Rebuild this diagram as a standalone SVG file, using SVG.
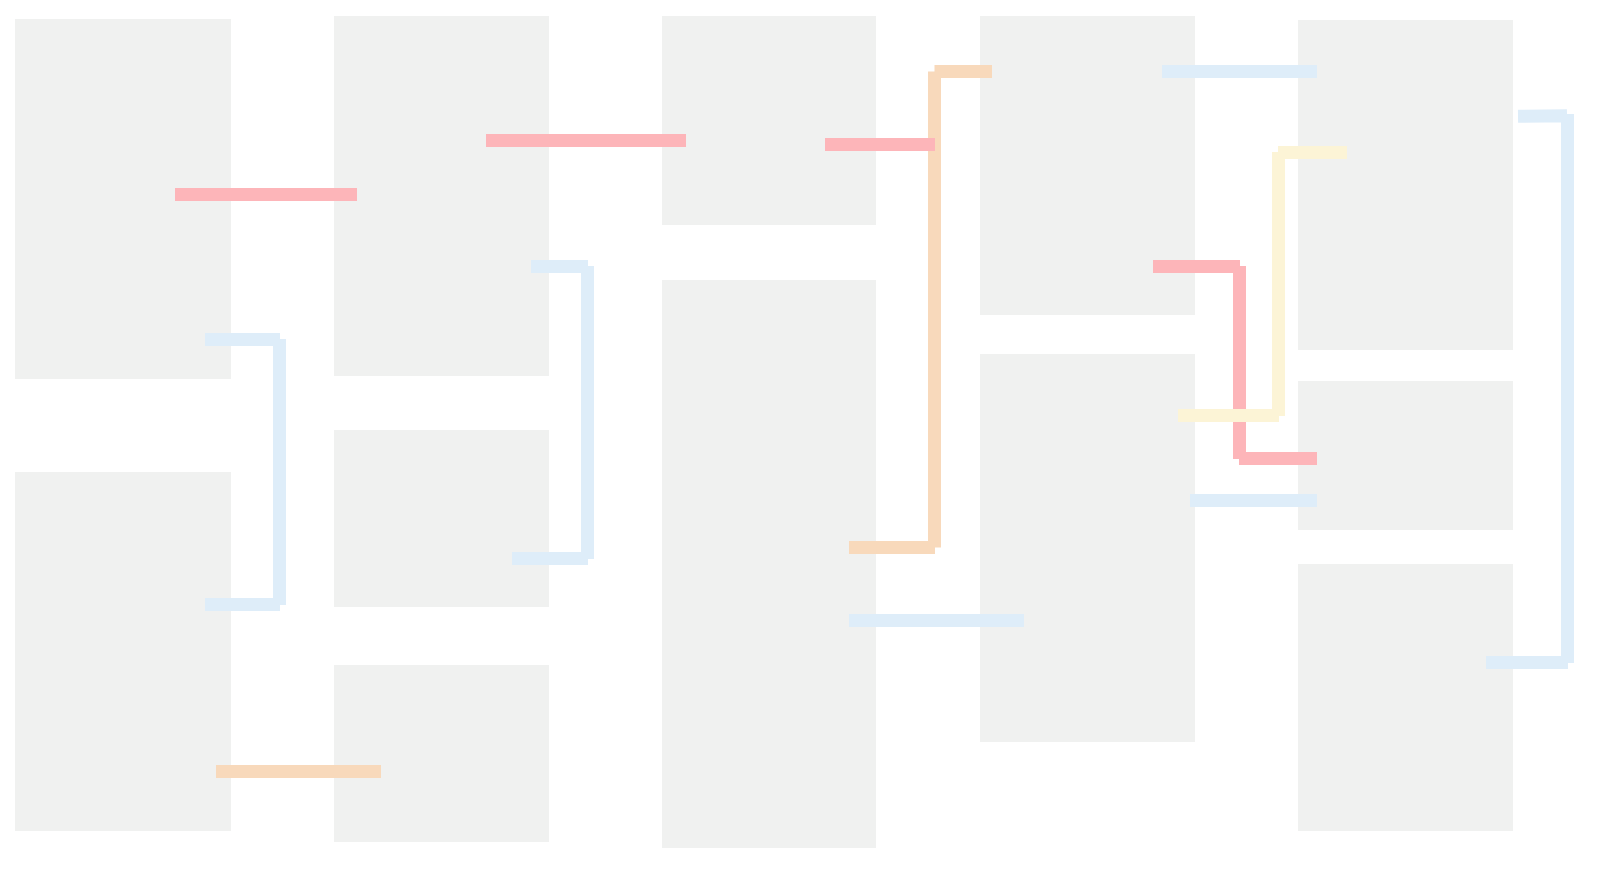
<svg xmlns="http://www.w3.org/2000/svg" width="1613" height="871" viewBox="0 0 1613 871">
<style>
.node{fill:#f0f1f0}
.c{fill:none;stroke-width:13;stroke-linecap:butt}
.red{stroke:#fdb5b9}
.blue{stroke:#deedf9}
.orange{stroke:#f8d9bb}
.yellow{stroke:#fcf4d6}
</style>
<rect width="1613" height="871" fill="#ffffff"/>
<g id="nodes">
<g id="n1"><rect class="node" x="15" y="19" width="216" height="360"/></g>
<g id="n2"><rect class="node" x="15" y="472" width="216" height="359"/></g>
<g id="n3"><rect class="node" x="334" y="16" width="215" height="360"/></g>
<g id="n4"><rect class="node" x="334" y="430" width="215" height="177"/></g>
<g id="n5"><rect class="node" x="334" y="665" width="215" height="177"/></g>
<g id="n6"><rect class="node" x="662" y="16" width="214" height="209"/></g>
<g id="n7"><rect class="node" x="662" y="280" width="214" height="568"/></g>
<g id="n8"><rect class="node" x="980" y="16" width="215" height="299"/></g>
<g id="n9"><rect class="node" x="980" y="354" width="215" height="388"/></g>
<g id="n10"><rect class="node" x="1298" y="20" width="215" height="330"/></g>
<g id="n11"><rect class="node" x="1298" y="381" width="215" height="149"/></g>
<g id="n12"><rect class="node" x="1298" y="564" width="215" height="267"/></g>
</g>
<g id="connectors">
<path class="c red" d="M175,194.5 L357,194.5"/>
<path class="c red" d="M486,140.5 L686,140.5"/>
<path class="c orange" d="M992,71.5 L934.5,71.5 M934.5,71.5 L934.5,547.5 M935,547.5 L849,547.5"/>
<path class="c red" d="M825,144.5 L935,144.5"/>
<path class="c blue" d="M531,266.5 L588,266.5 M587.5,266 L587.5,559 M588,558.5 L512,558.5"/>
<path class="c blue" d="M205,339.5 L280,339.5 M279.5,339 L279.5,605 M280,604.5 L205,604.5"/>
<path class="c orange" d="M216,771.5 L381,771.5"/>
<path class="c blue" d="M849,620.5 L1024,620.5"/>
<path class="c blue" d="M1162,71.5 L1317,71.5"/>
<path class="c red" d="M1153,266.5 L1240,266.5 M1239.5,266 L1239.5,459 M1239,458.5 L1317,458.5"/>
<path class="c yellow" d="M1347,152.5 L1278,152.5 M1278.5,152 L1278.5,416 M1279,415.5 L1178,415.5"/>
<path class="c blue" d="M1518,116.3 L1567,115.7 M1567.5,114 L1567.5,663 M1568,662.5 L1486,662.5"/>
<path class="c blue" d="M1190,500.5 L1317,500.5"/>
</g>
</svg>
